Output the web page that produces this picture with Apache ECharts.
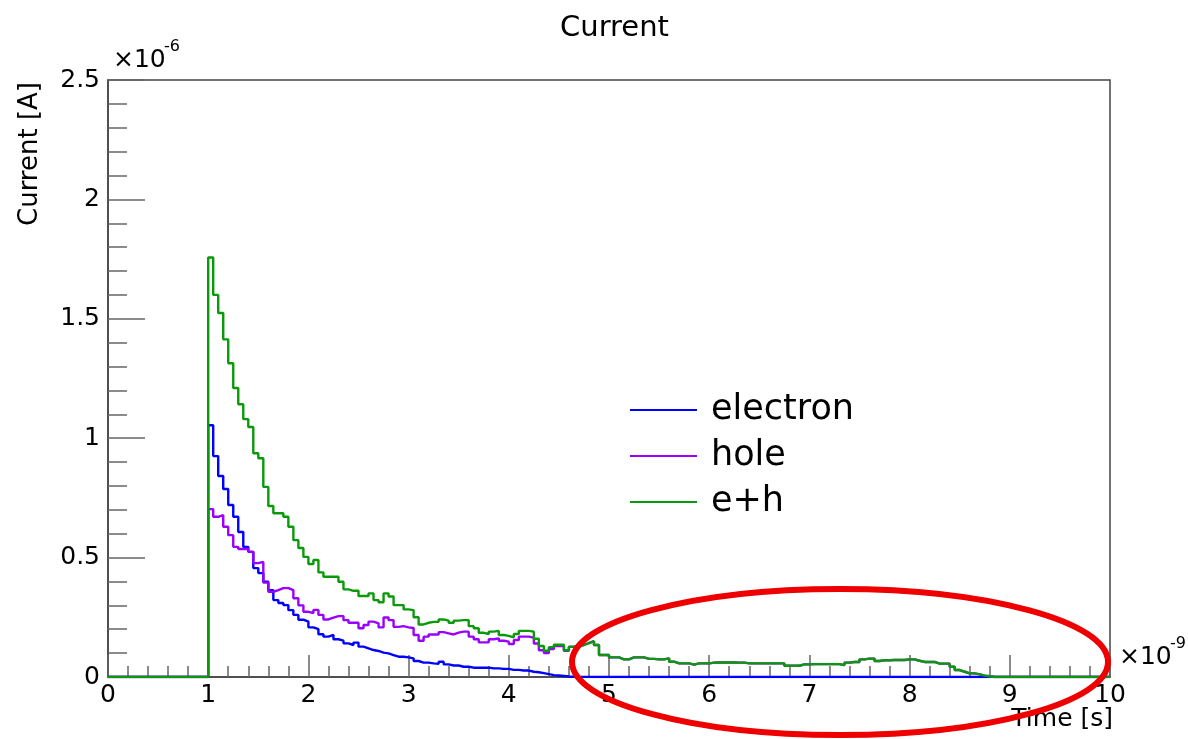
<!DOCTYPE html>
<html>
<head>
<meta charset="utf-8">
<title>Current</title>
<script src="https://cdn.jsdelivr.net/npm/echarts@6/dist/echarts.min.js"></script>
<style>
  html, body { margin: 0; padding: 0; background: #fff; }
  #chart { width: 1188px; height: 739px; }
</style>
</head>
<body>
<div id="chart"></div>
<script>
// histogram: 200 bins of 0.05 ns over 0..10 ns, values in 1e-6 A
var binWidth = 0.05;
var nBins = 200;
var firstBin = 20;   // first filled bin starts at t = 1.00 ns

var electron = [
    1.054, 0.925, 0.842, 0.787, 0.720, 0.671, 0.607, 0.545, 0.524, 0.456,
    0.435, 0.399, 0.364, 0.322, 0.310, 0.301, 0.280, 0.260, 0.240, 0.232,
    0.208, 0.200, 0.179, 0.169, 0.176, 0.158, 0.152, 0.141, 0.134, 0.144,
    0.127, 0.120, 0.113, 0.109, 0.102, 0.099, 0.092, 0.085, 0.085, 0.082,
    0.078, 0.067, 0.060, 0.060, 0.057, 0.055, 0.064, 0.053, 0.048, 0.048,
    0.043, 0.043, 0.039, 0.039, 0.039, 0.039, 0.036, 0.036, 0.034, 0.034,
    0.030, 0.030, 0.027, 0.027, 0.022, 0.020, 0.016, 0.012, 0.008, 0.006,
    0.004, 0.002, 0.001
];

var hole = [
    0.703, 0.671, 0.678, 0.629, 0.594, 0.545, 0.536, 0.536, 0.524, 0.477,
    0.482, 0.395, 0.357, 0.364, 0.372, 0.372, 0.364, 0.330, 0.300, 0.273,
    0.268, 0.281, 0.260, 0.241, 0.249, 0.255, 0.255, 0.238, 0.227, 0.227,
    0.204, 0.218, 0.232, 0.225, 0.208, 0.249, 0.238, 0.210, 0.213, 0.208,
    0.205, 0.176, 0.152, 0.169, 0.178, 0.178, 0.188, 0.183, 0.178, 0.186,
    0.190, 0.190, 0.169, 0.158, 0.145, 0.145, 0.158, 0.162, 0.152, 0.148,
    0.138, 0.155, 0.169, 0.169, 0.165, 0.140, 0.112, 0.100, 0.117, 0.130,
    0.131, 0.110, 0.126, 0.130, 0.134, 0.142, 0.150, 0.134, 0.092, 0.092,
    0.082, 0.082, 0.074, 0.074, 0.082, 0.082, 0.082, 0.076, 0.076, 0.074,
    0.074, 0.078, 0.064, 0.057, 0.057, 0.057, 0.052, 0.057, 0.057, 0.057,
    0.060, 0.061, 0.061, 0.061, 0.061, 0.060, 0.060, 0.057, 0.057, 0.057,
    0.057, 0.057, 0.057, 0.057, 0.057, 0.047, 0.047, 0.047, 0.053, 0.053,
    0.054, 0.054, 0.054, 0.054, 0.054, 0.054, 0.050, 0.060, 0.063, 0.063,
    0.074, 0.077, 0.077, 0.067, 0.070, 0.070, 0.071, 0.071, 0.071, 0.074,
    0.074, 0.068, 0.063, 0.063, 0.063, 0.056, 0.056, 0.056, 0.043, 0.029,
    0.022, 0.015, 0.015, 0.011, 0.006, 0.003
];

var eh = [
    1.757, 1.600, 1.524, 1.414, 1.314, 1.210, 1.142, 1.080, 1.047, 0.937,
    0.916, 0.796, 0.716, 0.686, 0.686, 0.671, 0.629, 0.573, 0.540, 0.503,
    0.473, 0.490, 0.438, 0.420, 0.420, 0.420, 0.399, 0.367, 0.361, 0.361,
    0.339, 0.339, 0.350, 0.322, 0.313, 0.350, 0.337, 0.301, 0.301, 0.283,
    0.280, 0.250, 0.220, 0.227, 0.231, 0.231, 0.241, 0.236, 0.227, 0.236,
    0.238, 0.238, 0.213, 0.204, 0.185, 0.180, 0.190, 0.193, 0.176, 0.172,
    0.166, 0.180, 0.193, 0.193, 0.190, 0.160, 0.130, 0.110, 0.125, 0.135,
    0.135, 0.112, 0.127, 0.130, 0.134, 0.142, 0.150, 0.134, 0.092, 0.092,
    0.082, 0.082, 0.074, 0.074, 0.082, 0.082, 0.082, 0.076, 0.076, 0.074,
    0.074, 0.078, 0.064, 0.057, 0.057, 0.057, 0.052, 0.057, 0.057, 0.057,
    0.060, 0.061, 0.061, 0.061, 0.061, 0.060, 0.060, 0.057, 0.057, 0.057,
    0.057, 0.057, 0.057, 0.057, 0.057, 0.047, 0.047, 0.047, 0.053, 0.053,
    0.054, 0.054, 0.054, 0.054, 0.054, 0.054, 0.050, 0.060, 0.063, 0.063,
    0.074, 0.077, 0.077, 0.067, 0.070, 0.070, 0.071, 0.071, 0.071, 0.074,
    0.074, 0.068, 0.063, 0.063, 0.063, 0.056, 0.056, 0.056, 0.043, 0.029,
    0.022, 0.015, 0.015, 0.011, 0.006, 0.003
];

var seriesNames = ['electron', 'hole', 'e+h'];
var seriesColors = ['#0000ff', '#9a00ff', '#0a990a'];

// turn bin contents into step points (left edge of every bin + closing edge)
function histData(vals) {
    var pts = [];
    for (var i = 0; i < nBins; i++) {
        var k = i - firstBin;
        var v = (k >= 0 && k < vals.length) ? vals[k] : 0;
        pts.push([i * binWidth, v]);
    }
    pts.push([nBins * binWidth, 0]);
    return pts;
}

var font = 'DejaVu Sans';
var frameColor = '#444';
var tickColor = '#666';

var chart = echarts.init(document.getElementById('chart'), null, { renderer: 'canvas' });

var series = [electron, hole, eh].map(function (vals, i) {
    return {
        name: seriesNames[i],
        type: 'line',
        step: 'end',
        data: histData(vals),
        showSymbol: false,
        symbol: 'none',
        color: seriesColors[i],
        lineStyle: { width: 2.4, color: seriesColors[i] }
    };
});

var option = {
    backgroundColor: '#fff',
    animation: false,
    title: {
        text: 'Current',
        left: 555,
        top: 9,
        textStyle: { fontFamily: font, fontSize: 29, fontWeight: 'normal', color: '#000' }
    },
    legend: {
        orient: 'vertical',
        left: 625,
        top: 387,
        itemWidth: 67,
        itemHeight: 2,
        itemGap: 10,
        icon: 'rect',
        selectedMode: false,
        data: seriesNames,
        textStyle: { fontFamily: font, fontSize: 35, color: '#000', lineHeight: 36, padding: [0, 0, 0, 9] }
    },
    grid: {
        left: 108,
        right: 78,
        top: 80,
        bottom: 62,
        show: true,
        borderColor: frameColor,
        borderWidth: 1.5,
        backgroundColor: 'transparent'
    },
    xAxis: {
        type: 'value',
        min: 0,
        max: 10,
        interval: 1,
        axisLine: { onZero: false, lineStyle: { color: frameColor, width: 1.5 } },
        axisTick: { inside: true, length: 22, lineStyle: { color: tickColor, width: 1.5 } },
        minorTick: { show: true, splitNumber: 5, length: 11, lineStyle: { color: tickColor, width: 1.5 } },
        splitLine: { show: false },
        axisLabel: { fontFamily: font, fontSize: 25, color: '#000', margin: 6 }
    },
    yAxis: {
        type: 'value',
        min: 0,
        max: 2.5,
        interval: 0.5,
        axisLine: { show: true, lineStyle: { color: frameColor, width: 1.5 } },
        axisTick: { show: true, inside: true, length: 37, lineStyle: { color: tickColor, width: 1.5 } },
        minorTick: { show: true, splitNumber: 5, length: 19, lineStyle: { color: tickColor, width: 1.5 } },
        splitLine: { show: false },
        axisLabel: { fontFamily: font, fontSize: 25, color: '#000', margin: 8 }
    },
    graphic: [
        // y axis title
        {
            type: 'text', x: 30, y: 82, rotation: Math.PI / 2,
            style: { text: 'Current [A]', fontFamily: font, fontSize: 26, fill: '#000', align: 'right', verticalAlign: 'middle' }
        },
        // x axis title
        {
            type: 'text', x: 1113, y: 719,
            style: { text: 'Time [s]', fontFamily: font, fontSize: 25, fill: '#000', align: 'right', verticalAlign: 'middle' }
        },
        // exponents
        {
            type: 'text', x: 113, y: 60,
            style: { text: '×10', fontFamily: font, fontSize: 25, fill: '#000', align: 'left', verticalAlign: 'middle' }
        },
        {
            type: 'text', x: 164, y: 47,
            style: { text: '-6', fontFamily: font, fontSize: 16, fill: '#000', align: 'left', verticalAlign: 'middle' }
        },
        {
            type: 'text', x: 1119, y: 657,
            style: { text: '×10', fontFamily: font, fontSize: 25, fill: '#000', align: 'left', verticalAlign: 'middle' }
        },
        {
            type: 'text', x: 1170, y: 644,
            style: { text: '-9', fontFamily: font, fontSize: 16, fill: '#000', align: 'left', verticalAlign: 'middle' }
        },
        // red hand-drawn highlight
        {
            type: 'ellipse', z: 100,
            shape: { cx: 840, cy: 662, rx: 268, ry: 73 },
            style: { fill: null, stroke: '#ee0000', lineWidth: 6 }
        }
    ],
    series: series
};

chart.setOption(option);
window.onresize = chart.resize;
</script>
</body>
</html>
